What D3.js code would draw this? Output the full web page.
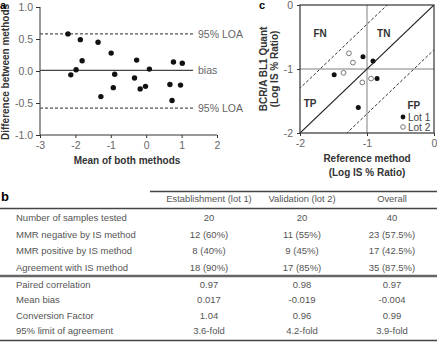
<!DOCTYPE html>
<html>
<head>
<meta charset="utf-8">
<script src="https://cdn.jsdelivr.net/npm/d3@7"></script>
<style>
  body { margin: 0; background: #fff; }
  svg { display: block; font-family: "Liberation Sans", Arial, sans-serif; }
</style>
</head>
<body>
<div id="container"></div>
<script>
/* DATA */
// panel a - Bland-Altman
const meanVals = [-2.21, -1.86, -1.81, -2.13, -1.98, -1.36, -0.99, -1.28, -0.89, -0.93,
  -0.27, -0.33, -0.17, -0.02, 0.09, 0.67, 0.77, 0.73, 1.02, 0.97];
const diffVals = [0.58, 0.49, 0.16, -0.06, 0.02, 0.45, 0.28, -0.40, -0.05, -0.26,
  0.17, -0.11, -0.28, -0.24, 0.03, -0.21, 0.14, -0.46, 0.12, -0.22];
const biasVal = 0.01;
const loaVals = [0.58, -0.58];
const aXTicks = [-3, -2, -1, 0, 1, 2];
const aYTicks = [-1, -0.5, 0, 0.5, 1];

// panel c - quadrant plot
const lot1X = [-1.06, -0.91, -1.49, -0.85, -1.13];
const lot1Y = [-0.81, -0.875, -1.09, -1.15, -1.60];
const lot2X = [-1.27, -1.21, -1.35, -1.07, -0.94];
const lot2Y = [-0.755, -0.90, -1.06, -1.21, -1.15];
const limitOffset = 0.7;
const cTicks = [-2, -1, 0];
const quadLabels = ["FN", "TN", "TP", "FP"];

// panel b - table
const colHeaders = ["Establishment (lot 1)", "Validation (lot 2)", "Overall"];
const rowLabels = ["Number of samples tested", "MMR negative by IS method", "MMR positive by IS method",
  "Agreement with IS method", "Paired correlation", "Mean bias", "Conversion Factor", "95% limit of agreement"];
const lot1Col = ["20", "12 (60%)", "8 (40%)", "18 (90%)", "0.97", "0.017", "1.04", "3.6-fold"];
const lot2Col = ["20", "11 (55%)", "9 (45%)", "17 (85%)", "0.98", "-0.019", "0.96", "4.2-fold"];
const overallCol = ["40", "23 (57.5%)", "17 (42.5%)", "35 (87.5%)", "0.97", "-0.004", "0.99", "3.9-fold"];

/* SETUP */
const width = 437, height = 342;
const svg = d3.select("#container").append("svg")
  .attr("width", width).attr("height", height);

const minus = s => s.replace("\u2212", "-");

/* PANEL A */
const ax = d3.scaleLinear().domain([-3, 2]).range([40, 217]);
const ay = d3.scaleLinear().domain([-1, 1]).range([135, 7]);

const gA = svg.append("g");
gA.append("g").attr("transform", "translate(40,0)")
  .call(d3.axisLeft(ay).tickValues(aYTicks).tickSize(4).tickPadding(3)
    .tickFormat(d => minus(d3.format(".1f")(d))))
  .call(g => g.select(".domain").attr("d", "M0,7V135"));
gA.append("g").attr("transform", "translate(0,135)")
  .call(d3.axisBottom(ax).tickValues(aXTicks).tickSize(3).tickPadding(4)
    .tickFormat(d => minus(d3.format("d")(d))))
  .call(g => g.select(".domain").attr("d", "M40,0H217"));
gA.selectAll(".tick text").attr("fill", "#666").style("font-size", "10.5px");
gA.selectAll(".domain, .tick line").attr("stroke", "#333");

gA.append("line")
  .attr("x1", 40).attr("x2", 193)
  .attr("y1", ay(biasVal)).attr("y2", ay(biasVal))
  .attr("stroke", "#444").attr("stroke-width", 1.3);
gA.selectAll("line.loa").data(loaVals).join("line")
  .attr("class", "loa")
  .attr("x1", 40).attr("x2", 193)
  .attr("y1", d => ay(d)).attr("y2", d => ay(d))
  .attr("stroke", "#555").attr("stroke-width", 1.1)
  .attr("stroke-dasharray", "3,2");
gA.selectAll("text.loa").data(loaVals).join("text")
  .attr("class", "loa")
  .attr("x", 198).attr("y", d => ay(d) + 4)
  .attr("fill", "#666").style("font-size", "10.5px")
  .text("95% LOA");
gA.append("text").attr("x", 198).attr("y", ay(biasVal) + 4)
  .attr("fill", "#666").style("font-size", "10.5px").text("bias");

gA.selectAll("circle").data(meanVals).join("circle")
  .attr("cx", d => ax(d))
  .attr("cy", (d, i) => ay(diffVals[i]))
  .attr("r", 2.7).attr("fill", "#111");

gA.append("text").attr("x", 127).attr("y", 164).attr("text-anchor", "middle")
  .style("font-size", "10px").style("font-weight", "bold").attr("fill", "#333")
  .text("Mean of both methods");
gA.append("text").attr("transform", "translate(9,72) rotate(-90)")
  .attr("text-anchor", "middle")
  .style("font-size", "10px").style("font-weight", "bold").attr("fill", "#333")
  .text("Difference between methods");
gA.append("text").attr("x", 0).attr("y", 9)
  .style("font-size", "11px").style("font-weight", "bold").text("a");

/* PANEL C */
const cx = d3.scaleLinear().domain([-2, 0]).range([300, 434]);
const cy = d3.scaleLinear().domain([-2, 0]).range([133, 5]);
const gC = svg.append("g");

gC.append("defs").append("clipPath").attr("id", "cbox")
  .append("rect").attr("x", 300).attr("y", 5).attr("width", 134).attr("height", 128);

gC.append("line").attr("x1", cx(-1)).attr("x2", cx(-1)).attr("y1", cy(0)).attr("y2", cy(-2))
  .attr("stroke", "#aaa").attr("stroke-width", 1.5);
gC.append("line").attr("x1", cx(-2)).attr("x2", cx(0)).attr("y1", cy(-1)).attr("y2", cy(-1))
  .attr("stroke", "#aaa").attr("stroke-width", 1.5);

const diag = gC.append("g").attr("clip-path", "url(#cbox)");
diag.append("line")
  .attr("x1", cx(-2)).attr("y1", cy(-2)).attr("x2", cx(0)).attr("y2", cy(0))
  .attr("stroke", "#222").attr("stroke-width", 1.2);
diag.selectAll("line.lim").data([limitOffset, -limitOffset]).join("line")
  .attr("class", "lim")
  .attr("x1", cx(-2.5)).attr("y1", d => cy(-2.5 + d))
  .attr("x2", cx(0.5)).attr("y2", d => cy(0.5 + d))
  .attr("stroke", "#333").attr("stroke-width", 1)
  .attr("stroke-dasharray", "3,2");

gC.append("rect").attr("x", 300).attr("y", 5).attr("width", 134).attr("height", 128)
  .attr("fill", "none").attr("stroke", "#333").attr("stroke-width", 1.2);

gC.append("g").attr("transform", "translate(300,0)")
  .call(d3.axisLeft(cy).tickValues(cTicks).tickSize(3).tickPadding(4)
    .tickFormat(d => minus(d3.format("d")(d))))
  .call(g => g.select(".domain").remove());
gC.append("g").attr("transform", "translate(0,133)")
  .call(d3.axisBottom(cx).tickValues(cTicks).tickSize(3).tickPadding(4)
    .tickFormat(d => minus(d3.format("d")(d))))
  .call(g => g.select(".domain").remove());
gC.selectAll(".tick text").attr("fill", "#666").style("font-size", "10.5px");
gC.selectAll(".tick line").attr("stroke", "#333");

const quadPos = [[-1.7, -0.5], [-0.75, -0.5], [-1.85, -1.6], [-0.3, -1.62]];
gC.selectAll("text.quad").data(quadLabels).join("text")
  .attr("class", "quad")
  .attr("x", (d, i) => cx(quadPos[i][0])).attr("y", (d, i) => cy(quadPos[i][1]))
  .attr("text-anchor", "middle")
  .style("font-size", "10px").style("font-weight", "bold").attr("fill", "#333")
  .text(d => d);

gC.selectAll("circle.lot1").data(lot1X).join("circle")
  .attr("class", "lot1")
  .attr("cx", d => cx(d)).attr("cy", (d, i) => cy(lot1Y[i]))
  .attr("r", 2.5).attr("fill", "#111");
gC.selectAll("circle.lot2").data(lot2X).join("circle")
  .attr("class", "lot2")
  .attr("cx", d => cx(d)).attr("cy", (d, i) => cy(lot2Y[i]))
  .attr("r", 2.4).attr("fill", "#fff").attr("stroke", "#777").attr("stroke-width", 1);

// legend
const leg = gC.append("g");
leg.append("circle").attr("cx", 403).attr("cy", 117).attr("r", 2.4).attr("fill", "#111");
leg.append("circle").attr("cx", 403).attr("cy", 127).attr("r", 2.3)
  .attr("fill", "#fff").attr("stroke", "#777");
leg.selectAll("text").data(["Lot 1", "Lot 2"]).join("text")
  .attr("x", 408).attr("y", (d, i) => 121 + i * 10)
  .attr("fill", "#444").style("font-size", "10px").text(d => d);

gC.append("text").attr("text-anchor", "middle").attr("x", 367)
  .style("font-size", "10px").style("font-weight", "bold").attr("fill", "#333")
  .selectAll("tspan").data(["Reference method", "(Log IS % Ratio)"]).join("tspan")
  .attr("x", 367).attr("y", (d, i) => 162 + i * 14).text(d => d);
gC.append("text").attr("transform", "translate(267,69) rotate(-90)")
  .attr("text-anchor", "middle")
  .style("font-size", "10px").style("font-weight", "bold").attr("fill", "#333")
  .selectAll("tspan").data(["BCR/A BL1 Quant", "(Log IS % Ratio)"]).join("tspan")
  .attr("x", 0).attr("y", (d, i) => i * 11).text(d => d);
gC.append("text").attr("x", 259).attr("y", 9)
  .style("font-size", "11px").style("font-weight", "bold").text("c");

/* PANEL B - TABLE */
const gB = svg.append("g");
const colX = [209, 302, 392];
const rowY = d3.scaleLinear().domain([0, 3]).range([221, 271]);
const rowY2 = d3.scaleLinear().domain([4, 7]).range([288, 334]);
const yOf = i => i < 4 ? rowY(i) : rowY2(i);

gB.append("text").attr("x", 1).attr("y", 201)
  .style("font-size", "13px").style("font-weight", "bold").text("b");
gB.append("line").attr("x1", 150).attr("x2", 437).attr("y1", 191.5).attr("y2", 191.5)
  .attr("stroke", "#444").attr("stroke-width", 1.5);
gB.append("line").attr("x1", 0).attr("x2", 437).attr("y1", 208.5).attr("y2", 208.5)
  .attr("stroke", "#444").attr("stroke-width", 1.5);
gB.append("line").attr("x1", 0).attr("x2", 437).attr("y1", 276).attr("y2", 276)
  .attr("stroke", "#666").attr("stroke-width", 2.5);
gB.append("line").attr("x1", 0).attr("x2", 437).attr("y1", 340.5).attr("y2", 340.5)
  .attr("stroke", "#444").attr("stroke-width", 1.5);

gB.selectAll("text.head").data(colHeaders).join("text")
  .attr("class", "head")
  .attr("x", (d, i) => colX[i]).attr("y", 202)
  .attr("text-anchor", "middle").attr("fill", "#555").style("font-size", "9.4px")
  .text(d => d);
gB.selectAll("text.rowlab").data(rowLabels).join("text")
  .attr("class", "rowlab")
  .attr("x", 16).attr("y", (d, i) => yOf(i))
  .attr("fill", "#555").style("font-size", "9.5px")
  .text(d => d);
[lot1Col, lot2Col, overallCol].forEach((col, c) => {
  gB.selectAll("text.col" + c).data(col).join("text")
    .attr("class", "col" + c)
    .attr("x", colX[c]).attr("y", (d, i) => yOf(i))
    .attr("text-anchor", "middle").attr("fill", "#555").style("font-size", "9.5px")
    .text(d => d);
});
</script>
</body>
</html>
